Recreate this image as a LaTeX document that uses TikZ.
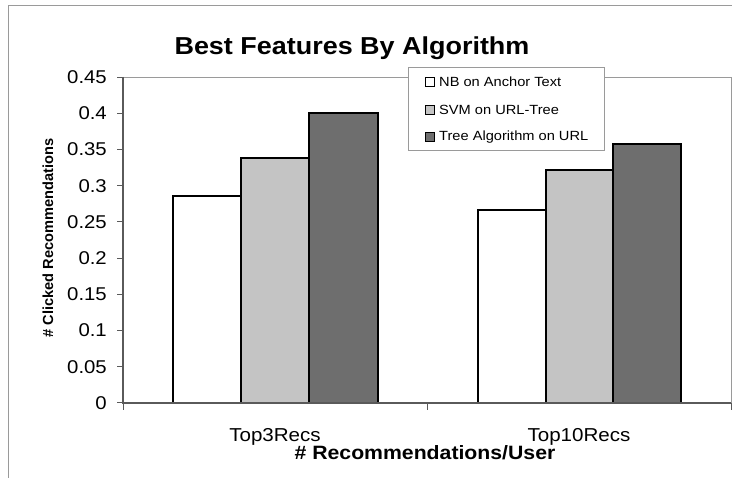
\documentclass[tikz,border=0pt]{standalone}
\usepackage{fontspec}
\setmainfont{Liberation Sans}[FakeStretch=1.1]
\newfontfamily\plainsans{Liberation Sans}
\definecolor{barlight}{HTML}{C4C4C4}
\definecolor{bardark}{HTML}{6E6E6E}
\definecolor{framegray}{HTML}{9A9A9A}
\definecolor{axisgray}{HTML}{5A5A5A}
\tikzset{
  bar/.style={draw=black, line width=1.7pt},
  ticklabel/.style={anchor=east, inner sep=0pt, font=\fontsize{18.5}{20}\selectfont},
  catlabel/.style={anchor=base, inner sep=0pt, font=\fontsize{18.7}{20}\selectfont},
  legtext/.style={anchor=west, inner sep=0pt, font=\fontsize{13.3}{15}\selectfont},
  legkey/.style={draw=black, line width=1.1pt, minimum size=9pt, inner sep=0pt},
}
\begin{document}
\begin{tikzpicture}[x=1pt, y=-1pt]
\useasboundingbox (0,0) rectangle (732,478);
\fill[white] (0,0) rectangle (732,478);
% chart area border
\draw[framegray, line width=0.8pt] (8,478) -- (8,5) -- (732,5);
% plot area
\draw[framegray, line width=0.8pt] (123,403) -- (123,77) -- (731,77) -- (731,403);
% bars: Top3Recs
\draw[bar, fill=white]    (173,403) rectangle (241,196);
\draw[bar, fill=barlight] (241,403) rectangle (309,158);
\draw[bar, fill=bardark]  (309,403) rectangle (378,113);
% bars: Top10Recs
\draw[bar, fill=white]    (478,403) rectangle (546,210);
\draw[bar, fill=barlight] (546,403) rectangle (613,170);
\draw[bar, fill=bardark]  (613,403) rectangle (681,144);
% axes
\draw[axisgray, line width=1.2pt] (123,77) -- (123,403) -- (731,403);
\foreach \v/\t [count=\i] in {0/0, 0.05/0.05, 0.1/0.1, 0.15/0.15, 0.2/0.2, 0.25/0.25, 0.3/0.3, 0.35/0.35, 0.4/0.4, 0.45/0.45} {
  \draw[axisgray, line width=1pt] (117,{403-724.4*\v}) -- (123,{403-724.4*\v});
  \node[ticklabel] (ytick\i) at (107,{403-724.4*\v}) {\t};
}
\foreach \x in {123,427,731}
  \draw[axisgray, line width=1pt] (\x,403) -- (\x,410);
% category and axis labels
\node[catlabel] (cat1) at (275,442) {Top3Recs};
\node[catlabel] (cat2) at (579,442) {Top10Recs};
\node[anchor=base, inner sep=0pt, font=\fontsize{19.3}{21}\selectfont\bfseries] (xtitle) at (425,460) {\# Recommendations/User};
\node[rotate=90, inner sep=0pt, font=\plainsans\fontsize{14.6}{16}\selectfont\bfseries] (ytitle) at (48,238) {\# Clicked Recommendations};
% title
\node[anchor=base, inner sep=0pt, font=\fontsize{24.5}{28}\selectfont\bfseries] (title) at (352,55) {Best Features By Algorithm};
% legend
\draw[framegray, line width=0.8pt, fill=white] (408,67) rectangle (604,150);
\node[legkey, fill=white]    (k1) at (430,82) {};
\node[legkey, fill=barlight] (k2) at (430,110) {};
\node[legkey, fill=bardark]  (k3) at (430,137) {};
\node[legtext] (l1) at (439,82) {NB on Anchor Text};
\node[legtext] (l2) at (439,110) {SVM on URL-Tree};
\node[legtext] (l3) at (439,137) {Tree Algorithm on URL};
\end{tikzpicture}
\end{document}
